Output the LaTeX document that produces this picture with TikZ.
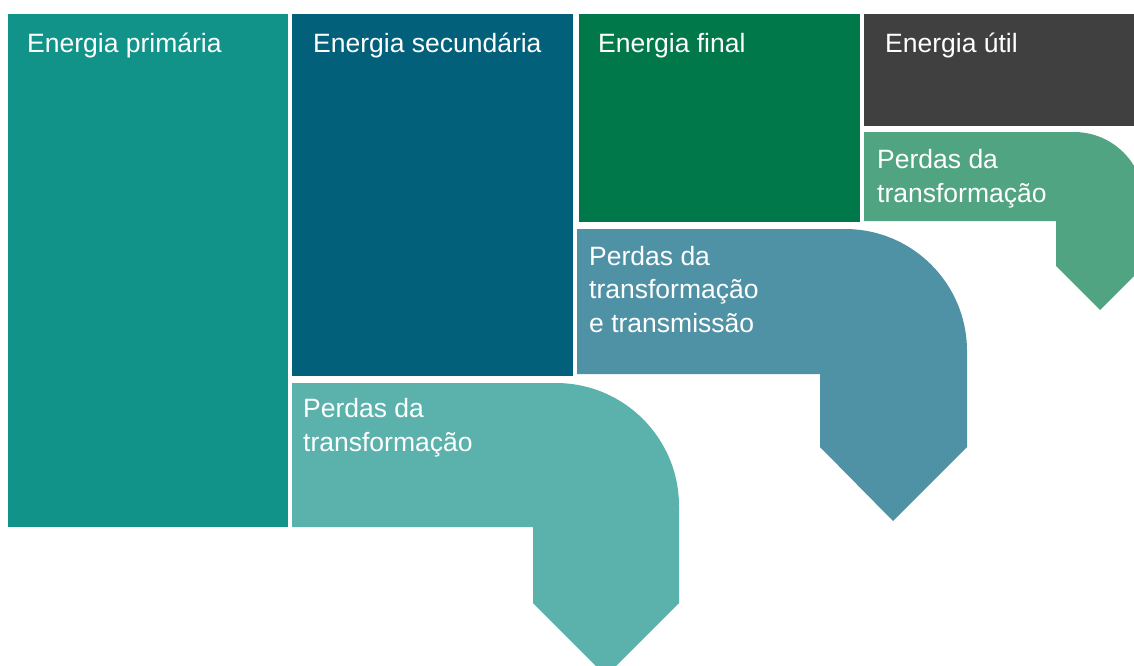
\documentclass[tikz,border=0pt]{standalone}
\usepackage{fontspec}
\setmainfont{Liberation Sans}
\definecolor{cprim}{HTML}{12938A}
\definecolor{csec}{HTML}{02607A}
\definecolor{cfin}{HTML}{00784A}
\definecolor{cutil}{HTML}{404040}
\definecolor{cp1}{HTML}{5BB2AC}
\definecolor{cp2}{HTML}{5092A5}
\definecolor{cp3}{HTML}{51A482}
\tikzset{
  lbl/.style={anchor=base west, inner sep=0pt, text=white, align=left,
    font=\fontsize{26.5}{33.5}\selectfont},
}
\begin{document}
\begin{tikzpicture}[x=1pt,y=-1pt]
\useasboundingbox (0,0) rectangle (1134,665);
\clip (0,0) rectangle (1134,665);
% top boxes
\fill[cprim] (8,14) rectangle (288,527);
\fill[csec] (292,14) rectangle (573,376);
\fill[cfin] (579,14) rectangle (860,222);
\fill[cutil] (864,14) rectangle (1144,126);
% loss arrows
\fill[cp1] (292,383) -- (556,383) .. controls (623.9,383) and (679,438.1) .. (679,506)
  -- (679,603) -- (606,676) -- (533,603) -- (533,527) -- (292,527) -- cycle;
\fill[cp2] (577,229) -- (845,229) .. controls (912.4,229) and (967,283.6) .. (967,351)
  -- (967,447) -- (893,521) -- (820,447) -- (820,374) -- (577,374) -- cycle;
\fill[cp3] (864,132) -- (1074,132) .. controls (1112.7,132) and (1144,163.3) .. (1144,202)
  -- (1144,266) -- (1100,310) -- (1056,266) -- (1056,221) -- (864,221) -- cycle;
% labels (base anchor = baseline of last line)
\node[lbl] (tprim) at (27,52) {Energia primária};
\node[lbl] (tsec) at (313,52) {Energia secundária};
\node[lbl] (tfin) at (598,52) {Energia final};
\node[lbl] (tutil) at (885,52) {Energia útil};
\node[lbl] (tp1) at (303,451) {Perdas da\\transformação};
\node[lbl] (tp2) at (589,332) {Perdas da\\transformação\\e transmissão};
\node[lbl] (tp3) at (877,202) {Perdas da\\transformação};
\end{tikzpicture}
\end{document}
